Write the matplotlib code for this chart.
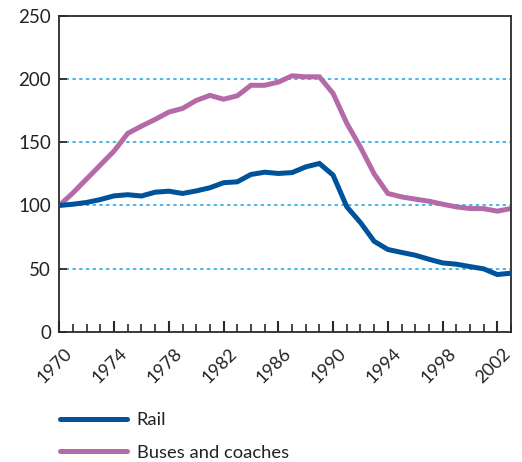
import matplotlib
matplotlib.use("Agg")
import matplotlib.pyplot as plt
from matplotlib.ticker import MultipleLocator
from matplotlib.transforms import ScaledTranslation

plt.rcParams['font.family'] = ['Lato', 'DejaVu Sans']

years = list(range(1970, 2004))
rail = [100, 101, 102.4, 104.7, 107.6, 108.5, 107.5, 110.5, 111.3, 109.5,
        111.5, 114, 118, 118.7, 124.5, 126.3, 125.3, 126, 130.5, 133.2,
        124, 99, 86.5, 71.7, 65.2, 62.9, 60.7, 57.5, 54.6, 53.6,
        51.7, 49.9, 45.4, 46.5]
buses = [100, 110, 121, 132, 143, 157, 162.7, 168, 173.8, 176.7,
         183, 187, 184, 186.7, 195, 195, 197.5, 202.5, 201.7, 201.7,
         188.6, 165, 146, 125, 109.5, 106.8, 105, 103.4, 101, 98.9,
         97.6, 97.5, 95.5, 97.6]
series_names = ['Rail', 'Buses and coaches']
year_ticks = list(range(1970, 2003, 4))
y_ticks = [0, 50, 100, 150, 200, 250]

rail_color = '#00529b'
bus_color = '#b56aa8'
grid_color = '#1aa3e0'
axis_color = '#2a2a2a'

fig = plt.figure(figsize=(5.22, 4.62), dpi=100)
ax = fig.add_axes([0.1136, 0.2814, 0.979 - 0.1136, 0.966 - 0.2814])

# dotted gridlines at the inner y ticks
for v in y_ticks[1:-1]:
    ax.axhline(v, color=grid_color, lw=1.1, ls=(0, (2.2, 2.2)), zorder=1)

ax.plot(years, rail, color=rail_color, lw=3.6, solid_capstyle='round',
        solid_joinstyle='miter', label=series_names[0], zorder=3)
ax.plot(years, buses, color=bus_color, lw=3.6, solid_capstyle='round',
        solid_joinstyle='miter', label=series_names[1], zorder=2)

ax.set_xlim(1970, 2003)
ax.set_ylim(0, 250)

ax.set_yticks(y_ticks)
ax.set_xticks(year_ticks)
ax.xaxis.set_minor_locator(MultipleLocator(1))
ax.set_xticklabels([str(y) for y in year_ticks], rotation=45, ha='right',
                   va='top', rotation_mode='anchor')

ax.tick_params(axis='y', direction='in', length=6, width=1.3, color=axis_color,
               labelsize=13.5, labelcolor='#222222', pad=6)
ax.tick_params(axis='x', which='major', direction='in', length=8, width=1.5,
               color=axis_color, labelsize=13, labelcolor='#222222', pad=6)
ax.tick_params(axis='x', which='minor', direction='in', length=5.5, width=1.2,
               color=axis_color)

# nudge the rotated year labels a little right and down
shift = ScaledTranslation(5 / 100, -5 / 100, fig.dpi_scale_trans)
for lbl in ax.get_xticklabels():
    lbl.set_transform(lbl.get_transform() + shift)

for sp in ax.spines.values():
    sp.set_color(axis_color)
    sp.set_linewidth(1.3)

leg = fig.legend(loc='upper left', bbox_to_anchor=(0.1146, 0.1075), frameon=False,
                 fontsize=13.2, handlelength=3.65, handletextpad=0.55,
                 labelspacing=0.9, borderaxespad=0, borderpad=0)
for t in leg.get_texts():
    t.set_color('#222222')

fig.savefig('out.png', dpi=100)
